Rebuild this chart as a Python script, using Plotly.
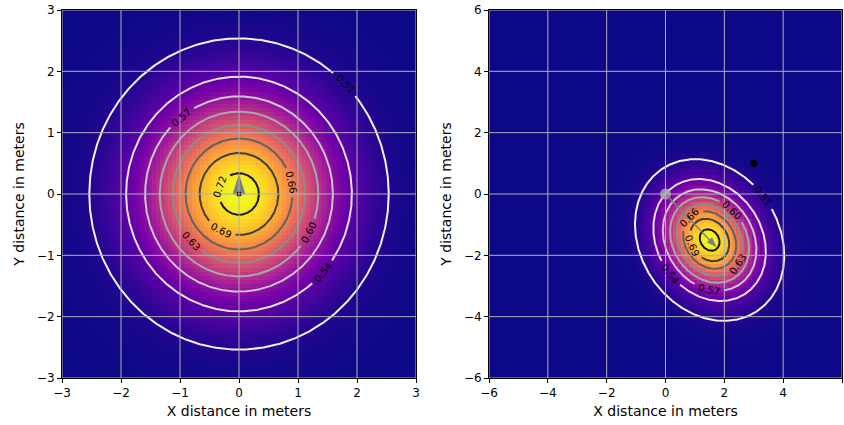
import numpy as np
import plotly.graph_objects as go

# ---- data ----
left_range = [-3, 3]
left_ticks = [-3, -2, -1, 0, 1, 2, 3]
right_range = [-6, 6]
right_ticks = [-6, -4, -2, 0, 2, 4, 6]

left_mean = [0.0, 0.0]
left_cov = [[1.0, 0.0], [0.0, 1.0]]
right_mean = [1.5, -1.5]
right_cov = [[1.0, -0.2], [-0.2, 1.08]]

contour_levels = [0.51, 0.54, 0.57, 0.60, 0.63, 0.66, 0.69, 0.72]
contour_colors = ["#f2f2f2", "#e2e2e2", "#c8c8c8", "#a8a8a8",
                  "#8c8c8c", "#626262", "#404040", "#161616"]
# direction (degrees, from the peak) where each level's label sits; None = no label
left_label_dirs = [45, -42, 128, -28, 223, 12, 243, 160]
right_label_dirs = [38, 219, 269, 52, -40, 133, 197, None]

left_arrow = [0.0, 0.0, 0.0, 0.001]      # x, y, dx, dy
right_arrow = [0.0, 0.0, 1.5, -1.5]
head_width = 0.2
head_length = 0.3

left_robot = [0.0, 0.0]
left_target = [0.0, 0.0]
right_robot = [0.0, 0.0]
right_target = [3.0, 1.0]

x_title = "X distance in meters"
y_title = "Y distance in meters"

W, H = 844, 425
left_dom_px = [62, 416]
right_dom_px = [489, 842]
y_dom_px = [10, 378]


def field(mean, cov, rng, n):
    step = (rng[1] - rng[0]) / n
    xs = np.linspace(rng[0] + step / 2, rng[1] - step / 2, n)
    X, Y = np.meshgrid(xs, xs)
    inv = np.linalg.inv(np.array(cov))
    dx = X - mean[0]
    dy = Y - mean[1]
    m = inv[0, 0] * dx * dx + 2 * inv[0, 1] * dx * dy + inv[1, 1] * dy * dy
    g = np.exp(-0.5 * m)
    return xs, 1.0 / (1.0 + np.exp(-g))


def level_curve(mean, cov, level, start_deg, n=720):
    """Exact iso-line of the field for one level, starting at start_deg."""
    inv = np.linalg.inv(np.array(cov))
    g = np.log(level / (1 - level))
    c = np.sqrt(-2 * np.log(g))
    th = np.deg2rad(start_deg) + np.linspace(0, 2 * np.pi, n)
    ux, uy = np.cos(th), np.sin(th)
    q = inv[0, 0] * ux * ux + 2 * inv[0, 1] * ux * uy + inv[1, 1] * uy * uy
    r = c / np.sqrt(q)
    return mean[0] + r * ux, mean[1] + r * uy


def arrow_head(a):
    x, y, dx, dy = a
    L = np.hypot(dx, dy)
    ux, uy = dx / L, dy / L
    px, py = -uy, ux
    bx, by = x + dx, y + dy
    tx, ty = bx + ux * head_length, by + uy * head_length
    hx = [bx + px * head_width / 2, tx, bx - px * head_width / 2, bx + px * head_width / 2]
    hy = [by + py * head_width / 2, ty, by - py * head_width / 2, by + py * head_width / 2]
    return hx, hy


fig = go.Figure()
annotations = []

panels = [
    (left_mean, left_cov, left_range, "x", "y", left_arrow, left_robot, left_target, False,
     left_label_dirs, left_dom_px),
    (right_mean, right_cov, right_range, "x2", "y2", right_arrow, right_robot, right_target, True,
     right_label_dirs, right_dom_px),
]

for (mean, cov, rng, xa, ya, arr, robot, target, show_robot, dirs, dom) in panels:
    sx = (dom[1] - dom[0]) / (rng[1] - rng[0])
    sy = (y_dom_px[1] - y_dom_px[0]) / (rng[1] - rng[0])
    xs, Z = field(mean, cov, rng, 90)
    fig.add_trace(go.Heatmap(x=xs, y=xs, z=Z, colorscale="Plasma", showscale=False,
                             zsmooth=False, xaxis=xa, yaxis=ya, hoverinfo="skip"))
    for lev, col, d in zip(contour_levels, contour_colors, dirs):
        cx, cy = level_curve(mean, cov, lev, d if d is not None else 0)
        if d is not None:
            lx, ly = cx[0], cy[0]
            dpx = np.hypot((cx - lx) * sx, (cy - ly) * sy)
            keep = dpx > 15
            # text angle from tangent in screen space
            tdx = (cx[2] - cx[-3]) * sx
            tdy = -(cy[2] - cy[-3]) * sy
            ang = np.degrees(np.arctan2(tdy, tdx))
            if ang > 90:
                ang -= 180
            if ang < -90:
                ang += 180
            annotations.append(dict(x=lx, y=ly, xref=xa, yref=ya, text=f"{lev:.2f}",
                                    showarrow=False, textangle=ang,
                                    font=dict(size=10, color="black", family="DejaVu Sans")))
            cx, cy = cx[keep], cy[keep]
        fig.add_trace(go.Scatter(x=cx, y=cy, mode="lines", line=dict(color=col, width=2),
                                 xaxis=xa, yaxis=ya, hoverinfo="skip"))
    if show_robot:
        fig.add_trace(go.Scatter(x=[robot[0]], y=[robot[1]], mode="markers",
                                 marker=dict(size=11, color="rgba(170,170,170,0.85)"),
                                 xaxis=xa, yaxis=ya, hoverinfo="skip"))
        fig.add_trace(go.Scatter(x=[arr[0], arr[0] + arr[2]], y=[arr[1], arr[1] + arr[3]],
                                 mode="lines", line=dict(color="gray", width=1.5),
                                 xaxis=xa, yaxis=ya, hoverinfo="skip"))
    hx, hy = arrow_head(arr)
    fig.add_trace(go.Scatter(x=hx, y=hy, mode="lines", fill="toself", fillcolor="gray",
                             line=dict(color="gray", width=1), xaxis=xa, yaxis=ya,
                             hoverinfo="skip"))
    fig.add_trace(go.Scatter(x=[target[0]], y=[target[1]], mode="markers",
                             marker=dict(size=7 if show_robot else 5, color="black"),
                             xaxis=xa, yaxis=ya, hoverinfo="skip"))

# grid lines above the image
shapes = []
for ticks, xa, ya, rng in [(left_ticks, "x", "y", left_range), (right_ticks, "x2", "y2", right_range)]:
    for t in ticks:
        shapes.append(dict(type="line", xref=xa, yref=ya, x0=t, x1=t, y0=rng[0], y1=rng[1],
                           line=dict(color="#b0b0b0", width=1), layer="above"))
        shapes.append(dict(type="line", xref=xa, yref=ya, y0=t, y1=t, x0=rng[0], x1=rng[1],
                           line=dict(color="#b0b0b0", width=1), layer="above"))

ax_common = dict(showline=True, linecolor="black", linewidth=1, mirror=True,
                 ticks="outside", ticklen=4, tickwidth=1, tickcolor="black",
                 showgrid=False, zeroline=False, layer="above traces", automargin=False,
                 tickfont=dict(size=12, color="black", family="DejaVu Sans"))

ydom = [1 - y_dom_px[1] / H, 1 - y_dom_px[0] / H]
fig.update_layout(
    width=W, height=H, margin=dict(l=0, r=0, t=0, b=0, autoexpand=False),
    paper_bgcolor="white", plot_bgcolor="white", showlegend=False,
    font=dict(family="DejaVu Sans", size=12, color="black"),
    shapes=shapes, annotations=annotations,
    xaxis=dict(domain=[left_dom_px[0] / W, left_dom_px[1] / W], range=left_range,
               tickvals=left_ticks, title=dict(text=x_title, standoff=6), anchor="y", **ax_common),
    yaxis=dict(domain=ydom, range=left_range, tickvals=left_ticks,
               title=dict(text=y_title, standoff=8), anchor="x", **ax_common),
    xaxis2=dict(domain=[right_dom_px[0] / W, right_dom_px[1] / W], range=right_range,
                tickvals=right_ticks, title=dict(text=x_title, standoff=6), anchor="y2", **ax_common),
    yaxis2=dict(domain=ydom, range=right_range, tickvals=right_ticks,
                title=dict(text=y_title, standoff=8), anchor="x2", **ax_common),
)

fig.write_html("out.html")
